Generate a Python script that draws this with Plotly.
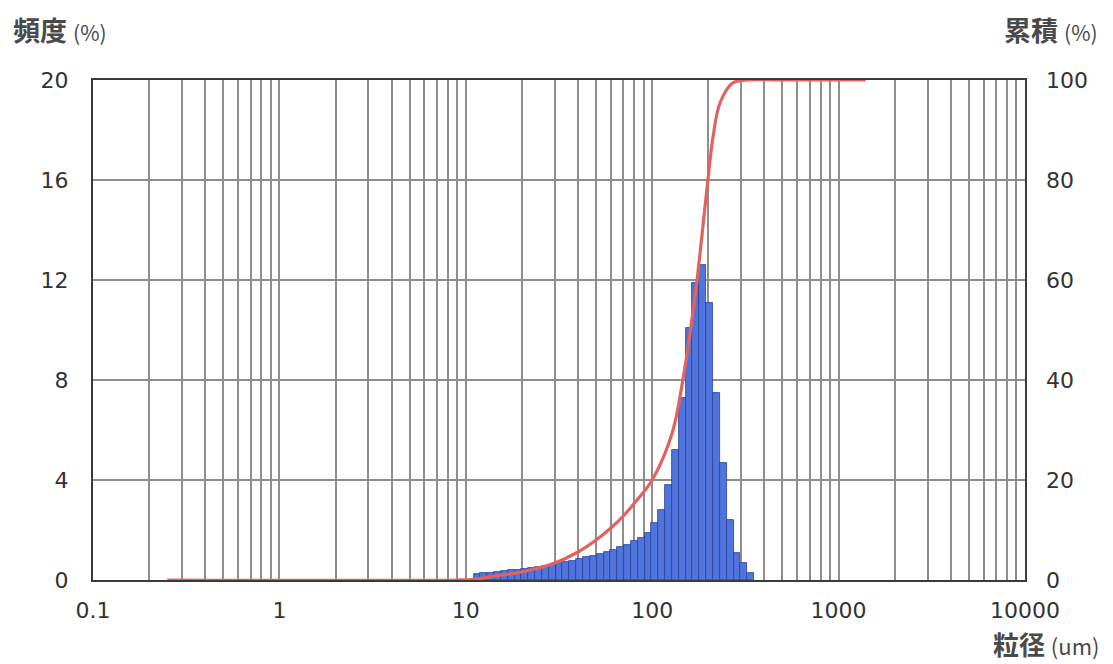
import plotly.graph_objects as go

# ---- data ----
# bin edges (um) of the frequency histogram
bin_edges = [11.00, 11.97, 13.03, 14.18, 15.43, 16.79, 18.27, 19.88, 21.63, 23.54,
             25.62, 27.88, 30.34, 33.01, 35.92, 39.09, 42.54, 46.29, 50.37, 54.81,
             59.65, 64.91, 70.63, 76.86, 83.64, 91.02, 99.05, 107.8, 117.3, 127.6,
             138.9, 151.1, 164.5, 179.0, 194.8, 211.9, 230.6, 251.0, 273.1, 297.2,
             323.4, 351.9]
# frequency (%) of each bin
freq_pct = [0.25, 0.28, 0.30, 0.33, 0.36, 0.39, 0.42, 0.45, 0.49, 0.53,
            0.57, 0.62, 0.67, 0.72, 0.78, 0.84, 0.91, 0.98, 1.06, 1.14,
            1.22, 1.32, 1.42, 1.55, 1.70, 1.90, 2.30, 2.80, 3.80, 5.20,
            7.30, 10.1, 11.9, 12.6, 11.1, 7.50, 4.70, 2.40, 1.10, 0.70,
            0.30]
# cumulative curve (%)
cum_size = [0.25, 9, 11, 15, 20, 30, 40, 50, 60, 70, 80, 100, 128, 146, 160,
            174, 185, 199, 212, 231, 270, 322, 500, 1400]
cum_pct = [0, 0, 0.15, 0.9, 1.6, 3.4, 5.6, 8.0, 10.4, 12.8, 15.3, 20, 29.4, 40, 49.7,
           60, 69.0, 80, 88.6, 95.4, 99.4, 100, 100, 100]

x_major = [0.1, 1, 10, 100, 1000, 10000]
x_major_labels = ["0.1", "1", "10", "100", "1000", "10000"]
x_minor = [m * d for d in [0.1, 1, 10, 100, 1000] for m in range(2, 10)]
y_left_ticks = [0, 4, 8, 12, 16, 20]
y_right_ticks = [0, 20, 40, 60, 80, 100]

lo = bin_edges[:-1]
hi = bin_edges[1:]
centers = [(a + b) / 2 for a, b in zip(lo, hi)]
widths = [b - a for a, b in zip(lo, hi)]

GRID = "#8e8e8e"
AX = "#3a3a3a"
TXT = "#333333"
NUMFONT = "DejaVu Sans, Arial, sans-serif"
CJK = "Noto Sans CJK JP, sans-serif"

fig = go.Figure()
fig.add_trace(go.Bar(
    x=centers, y=freq_pct, width=widths,
    marker=dict(color="#4f74dc", line=dict(color="#2b3f9a", width=0.8)),
    yaxis="y", showlegend=False,
))
fig.add_trace(go.Scatter(
    x=cum_size, y=cum_pct, mode="lines",
    line=dict(color="#e2625f", width=3.2, shape="spline", smoothing=1.0),
    yaxis="y2", showlegend=False,
))

fig.update_layout(
    width=1113, height=664,
    margin=dict(l=93, r=88, t=80, b=84),
    paper_bgcolor="white", plot_bgcolor="white",
    bargap=0,
    xaxis=dict(
        type="log", range=[-1, 4],
        tickvals=x_major, ticktext=x_major_labels,
        showgrid=True, gridcolor=GRID, gridwidth=1.8,
        minor=dict(tickvals=x_minor, showgrid=True, gridcolor=GRID, gridwidth=1.8, ticks=""),
        ticks="", ticklabelstandoff=10,
        showline=True, linecolor=AX, linewidth=2, mirror=True,
        tickfont=dict(family=NUMFONT, size=22, color=TXT),
        zeroline=False,
    ),
    yaxis=dict(
        range=[0, 20], tickvals=y_left_ticks,
        showgrid=True, gridcolor=GRID, gridwidth=1.8,
        ticks="", ticklabelstandoff=18,
        showline=True, linecolor=AX, linewidth=2, mirror=True,
        tickfont=dict(family=NUMFONT, size=22, color=TXT),
        zeroline=False,
    ),
    yaxis2=dict(
        range=[0, 100], tickvals=y_right_ticks,
        overlaying="y", side="right",
        showgrid=False, ticks="", ticklabelstandoff=20,
        tickfont=dict(family=NUMFONT, size=22, color=TXT),
        zeroline=False,
    ),
    annotations=[
        dict(text="<b>頻度</b> <span style='font-size:21px'>(%)</span>", xref="paper", yref="paper",
             x=-0.088, y=1.10, xanchor="left", yanchor="middle", showarrow=False,
             font=dict(family=CJK, size=27, color="#4a4a4a")),
        dict(text="<b>累積</b> <span style='font-size:21px'>(%)</span>", xref="paper", yref="paper",
             x=1.08, y=1.10, xanchor="right", yanchor="middle", showarrow=False,
             font=dict(family=CJK, size=27, color="#4a4a4a")),
        dict(text="<b>粒径</b> <span style='font-size:22px'>(um)</span>", xref="paper", yref="paper",
             x=1.082, y=-0.126, xanchor="right", yanchor="middle", showarrow=False,
             font=dict(family=CJK, size=26, color="#4a4a4a")),
    ],
)

fig.write_html("out.html")
